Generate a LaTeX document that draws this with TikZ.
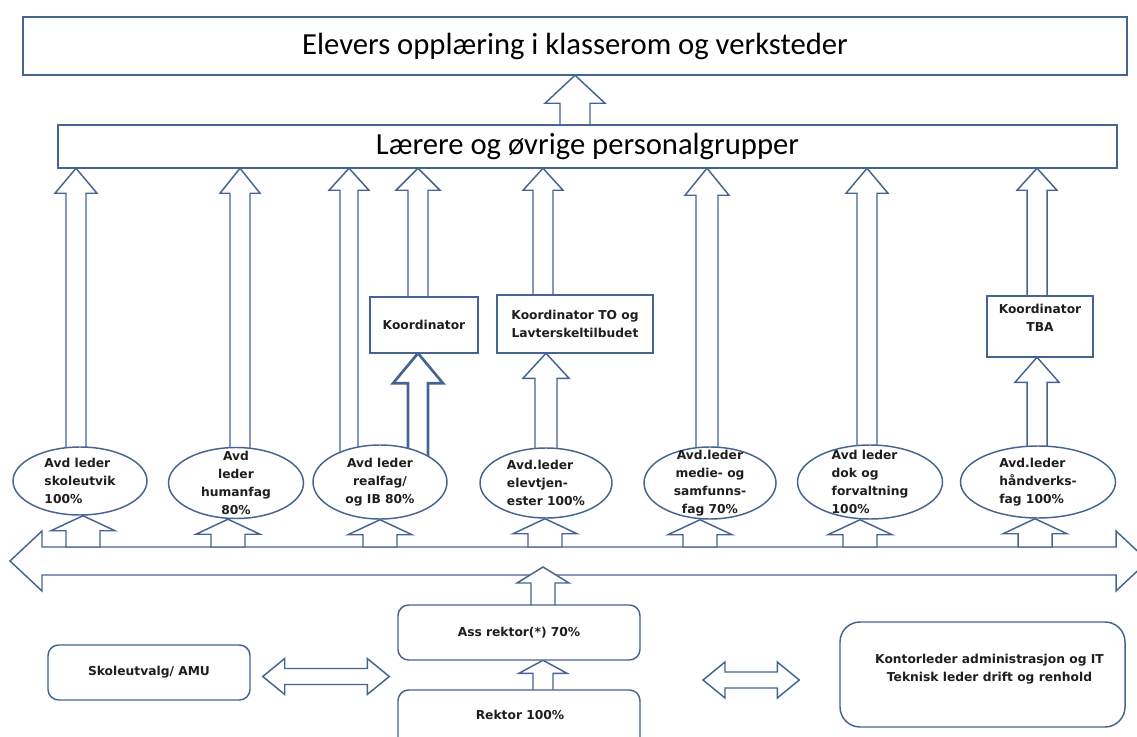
\documentclass[tikz,border=0pt]{standalone}
\usepackage{fontspec}
\setmainfont{Carlito}
\newfontfamily\smallfam{DejaVu Sans}
\usetikzlibrary{calc,shapes.geometric}
\definecolor{ln}{RGB}{70,100,145}
\definecolor{tx}{RGB}{30,30,30}
\newcommand\px[1]{#1*0.75pt}
% up block arrow: #1 options, #2 base point, #3 tip point (y only), #4 shaft half-width, #5 head half-width, #6 head length (px)
\newcommand\uparr[6]{%
  \draw[blk,#1] let \p1=(#2), \p2=(#3) in
   (\x1-#4*0.75pt,\y1) -- (\x1-#4*0.75pt,\y2-#6*0.75pt) -- (\x1-#5*0.75pt,\y2-#6*0.75pt) -- (\x1,\y2)
   -- (\x1+#5*0.75pt,\y2-#6*0.75pt) -- (\x1+#4*0.75pt,\y2-#6*0.75pt) -- (\x1+#4*0.75pt,\y1) -- cycle;}
% horizontal double block arrow: #1 left tip, #2 right tip (x only), #3 shaft half-width, #4 head half-width, #5 head length
\newcommand\dblarr[5]{%
  \draw[blk] let \p1=(#1), \p2=(#2) in
   (\x1,\y1) -- (\x1+#5*0.75pt,\y1+#4*0.75pt) -- (\x1+#5*0.75pt,\y1+#3*0.75pt) -- (\x2-#5*0.75pt,\y1+#3*0.75pt)
   -- (\x2-#5*0.75pt,\y1+#4*0.75pt) -- (\x2,\y1) -- (\x2-#5*0.75pt,\y1-#4*0.75pt) -- (\x2-#5*0.75pt,\y1-#3*0.75pt)
   -- (\x1+#5*0.75pt,\y1-#3*0.75pt) -- (\x1+#5*0.75pt,\y1-#4*0.75pt) -- cycle;}
\begin{document}
\begin{tikzpicture}[x=0.75pt,y=-0.75pt,
  blk/.style={draw=ln,line width=1.1pt,fill=white,line join=miter},
  box/.style={draw=ln,line width=1.1pt,fill=white,inner sep=0pt},
  rbox/.style={box,rounded corners=8pt},
  small/.style={text=tx,font=\smallfam\bfseries\fontsize{9.2}{13.5}\selectfont},
  ell/.style={draw=ln,line width=1.1pt,fill=white,ellipse,inner sep=0pt},
  big/.style={font=\fontsize{23}{27}\selectfont}]
\useasboundingbox[fill=white] (0,0) rectangle (1137,737);

% named positions (node centres)
\coordinate (top) at (575,46);
\coordinate (box2) at (587.5,146.5);
\coordinate (k1) at (424,325);
\coordinate (k2) at (575,324);
\coordinate (k3) at (1040,326.5);
\coordinate (e1) at (80,481);
\coordinate (e2) at (236,483);
\coordinate (e3) at (380,482);
\coordinate (e4) at (546,483);
\coordinate (e5) at (710,483);
\coordinate (e6) at (870,482);
\coordinate (e7) at (1038,482);

% invisible frames for anchors
\path (top) node[minimum width=\px{1104},minimum height=\px{58},inner sep=0pt] (topn) {};
\path (box2) node[minimum width=\px{1059},minimum height=\px{43},inner sep=0pt] (box2n) {};
\path (k1) node[minimum width=\px{108},minimum height=\px{56},inner sep=0pt] (k1n) {};
\path (k2) node[minimum width=\px{156},minimum height=\px{58},inner sep=0pt] (k2n) {};
\path (k3) node[minimum width=\px{106},minimum height=\px{61},inner sep=0pt] (k3n) {};

% upward arrows (drawn under the shapes)
\uparr{}{$(e1)+(-4,0)$}{box2n.south}{10}{21}{25}
\uparr{}{$(e2)+(4,0)$}{box2n.south}{10}{20}{25}
\uparr{}{$(e3)+(-31,0)$}{box2n.south}{9}{20}{22}
\uparr{}{$(k1)+(-6,0)$}{box2n.south}{10}{22}{22}
\uparr{line width=2pt}{$(e3)+(38,0)$}{k1n.south}{10}{25}{30}
\uparr{}{$(k2)+(-32,0)$}{box2n.south}{10}{20}{22}
\uparr{}{e4}{k2n.south}{11}{23}{25}
\uparr{}{$(e5)+(-3,0)$}{box2n.south}{11}{22}{27}
\uparr{}{$(e6)+(-3,0)$}{box2n.south}{10}{21}{25}
\uparr{}{$(k3)+(-3,0)$}{box2n.south}{10}{20}{22}
\uparr{}{$(e7)+(-1,0)$}{k3n.south}{10}{22}{25}
\uparr{}{$(box2)+(-12.5,0)$}{topn.south}{15}{30}{28}

% top boxes
\node[box,big,minimum width=\px{1104},minimum height=\px{58}] (tb) at (top) {Elevers opplæring i klasserom og verksteder};
\node[box,big,minimum width=\px{1059},minimum height=\px{43}] (b2) at (box2) {Lærere og øvrige personalgrupper};

% coordinator boxes
\node[box,small,minimum width=\px{108},minimum height=\px{56}] (kb1) at (k1) {Koordinator};
\node[box,small,align=center,minimum width=\px{156},minimum height=\px{58}] (kb2) at (k2) {Koordinator TO og\\Lavterskeltilbudet};
\node[box,minimum width=\px{106},minimum height=\px{61}] (kb3) at (k3) {};
\node[small,align=center,anchor=north] (kb3t) at ($(kb3.north)+(0,4)$) {Koordinator\\TBA};

% ellipses (fixed size) and their texts
\node[ell,minimum width=\px{134},minimum height=\px{68}] (el1) at (e1) {};
\node[ell,minimum width=\px{135},minimum height=\px{71}] (el2) at (e2) {};
\node[ell,minimum width=\px{134},minimum height=\px{74}] (el3) at (e3) {};
\node[ell,minimum width=\px{132},minimum height=\px{70}] (el4) at (e4) {};
\node[ell,minimum width=\px{132},minimum height=\px{72}] (el5) at (e5) {};
\node[ell,minimum width=\px{145},minimum height=\px{74}] (el6) at (e6) {};
\node[ell,minimum width=\px{155},minimum height=\px{72}] (el7) at (e7) {};
\node[small,align=left] (t1) at (el1) {Avd leder\\skoleutvik\\100\%};
\node[small,align=center] (t2) at (el2) {Avd\\leder\\humanfag\\80\%};
\node[small,align=center] (t3) at (el3) {Avd leder\\realfag/\\og IB 80\%};
\node[small,align=left] (t4) at (el4) {Avd.leder\\elevtjen-\\ester 100\%};
\node[small,align=center] (t5) at (el5) {Avd.leder\\medie- og\\samfunns-\\fag 70\%};
\node[small,align=left] (t6) at (el6) {Avd leder\\dok og\\forvaltning\\100\%};
\node[small,align=left] (t7) at (el7) {Avd.leder\\håndverks-\\fag 100\%};

% horizontal bar
\coordinate (barL) at (10,561);
\coordinate (barR) at (1148,561);
\coordinate (bartop) at (0,547);
\dblarr{barL}{barR}{14}{30}{32}

% small arrows from bar into ellipses
\foreach \e/\dx in {el1/3,el2/-8,el3/0,el4/-1,el5/-10,el6/-10,el7/-3}{
  \uparr{}{$(\e.south |- bartop)+(\dx,0)$}{\e.south}{17}{32}{15}
}

% bottom boxes
\coordinate (ass) at (519,632.5);
\coordinate (rek) at (519,720);
\path (ass) node[minimum width=\px{242},minimum height=\px{55},inner sep=0pt] (assn) {};
\path (rek) node[minimum width=\px{242},minimum height=\px{60},inner sep=0pt] (rekn) {};
\coordinate (barbot) at (0,567);
\uparr{}{$(ass)+(24,0)$}{barbot}{12}{26}{16}
\uparr{}{$(rek)+(24,0)$}{assn.south}{10}{24}{13}
\node[rbox,small,minimum width=\px{242},minimum height=\px{55}] (assb) at (ass) {Ass rektor(*) 70\%};
\node[rbox,minimum width=\px{242},minimum height=\px{60}] (rekb) at (rek) {};
\node[small] (rekt) at (520,715) {Rektor 100\%};

\node[rbox,small,minimum width=\px{202},minimum height=\px{55}] (sk) at (149,672.5) {Skoleutvalg/ AMU};
\node[rbox,rounded corners=15pt,minimum width=\px{285},minimum height=\px{105}] (kont) at (982.5,674.5) {};
\node[small,align=center,anchor=north] (kontt) at ($(kont.north)+(7,28)$) {Kontorleder administrasjon og IT\\Teknisk leder drift og renhold};

% double arrows
\coordinate (d1a) at ($(sk.east)+(12,4)$);
\coordinate (d1b) at ($(assb.west |- d1a)+(-8,0)$);
\dblarr{d1a}{d1b}{8}{18}{22}
\coordinate (d2a) at (703,680);
\coordinate (d2b) at ($(kont.west |- d2a)+(-40,0)$);
\dblarr{d2a}{d2b}{8}{18}{22}
\end{tikzpicture}
\end{document}
